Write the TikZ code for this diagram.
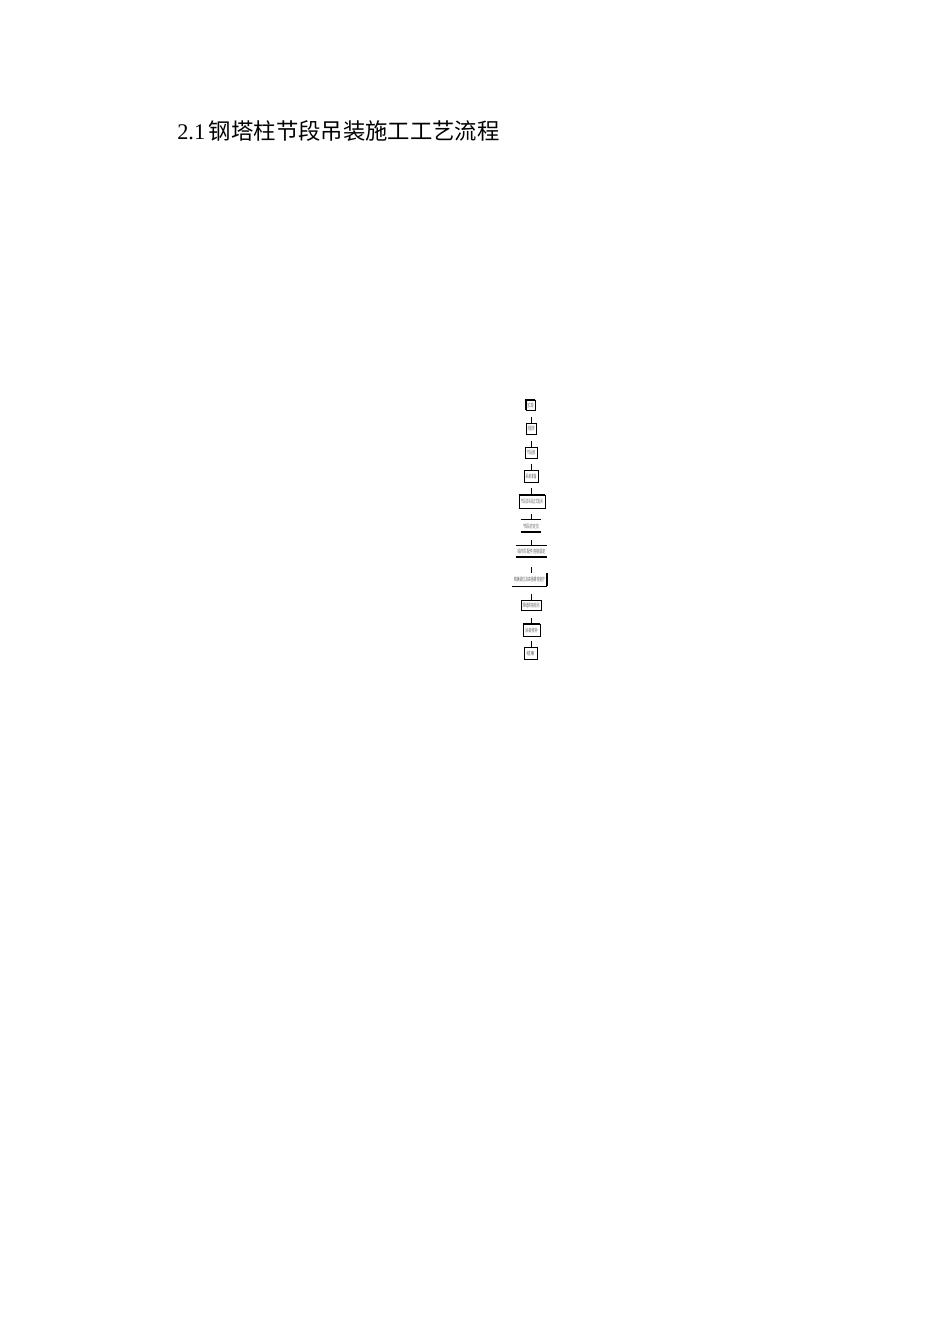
\documentclass[tikz,border=0pt]{standalone}
\usepackage{fontspec}
\usepackage{graphicx}
\setmainfont{Liberation Serif}
\newfontfamily\cjk{Noto Sans CJK SC}
\newlength\pxu
\setlength\pxu{0.6263pt}
\tikzset{
  flowbox/.style={draw=black, line width=0.6pt, inner sep=0pt, minimum width=#1\pxu, align=center},
  openbox/.style={draw=none, inner sep=0pt, minimum width=#1\pxu, align=center},
  stub/.style={draw=black, line width=0.6pt},
  thickedge/.style={draw=black, line width=1.2pt},
  thinedge/.style={draw=black, line width=0.6pt}
}
\newcommand\tinylabel[2]{\textcolor{black!60}{\resizebox*{#1\pxu}{5\pxu}{\cjk #2}}}
\begin{document}
\begin{tikzpicture}[x=0.6263pt, y=-0.6263pt]
\useasboundingbox (0,0) rectangle (950,1344);
\node[anchor=base west, inner sep=0pt, font=\fontsize{14}{16}\selectfont] (title) at (177,139) {2.1\,{\cjk 钢塔柱节段吊装施工工艺流程}};

% boxes
\node[flowbox=9, minimum height=10\pxu] (b1) at (530.5,405) {\tinylabel{6}{施工准备}};
\node[flowbox=10, minimum height=11\pxu] (b2) at (531,428.5) {\tinylabel{7}{测量放样}};
\node[flowbox=12, minimum height=11\pxu] (b3) at (531,452.5) {\tinylabel{8}{节段运输}};
\node[flowbox=14, minimum height=12\pxu] (b4) at (531,476) {\tinylabel{11}{吊装准备}};
\node[flowbox=26, minimum height=13\pxu] (b5) at (532,501.5) {\tinylabel{22}{节段试吊及正式起吊}};
\node[openbox=20, minimum height=12\pxu] (b6) at (531,526) {\tinylabel{16}{节段初定位}};
\node[openbox=31, minimum height=11\pxu] (b7) at (531.5,551.5) {\tinylabel{28}{临时匹配件连接固定}};
\node[openbox=35, minimum height=13\pxu] (b8) at (529.5,579.5) {\tinylabel{31}{精确调位及高强螺栓施拧}};
\node[flowbox=20, minimum height=10\pxu] (b9) at (531,605) {\tinylabel{17}{焊缝焊接检测}};
\node[flowbox=17, minimum height=12\pxu] (b10) at (531.5,630) {\tinylabel{13}{涂装修补}};
\node[flowbox=13, minimum height=12\pxu] (b11) at (530.5,653) {\tinylabel{8}{结束}};

% heavier edges
\draw[thickedge] (b1.south west) -- (b1.north west) -- (b1.north east);
\draw[thickedge] (b2.north east) -- (b2.south east);
\draw[thickedge] (b4.south west) -- (b4.south east);
\draw[thickedge] (b5.north west) -- (b5.north east);
\draw[thinedge] (b6.north west) -- (b6.north east);
\draw[thickedge] (b6.south west) -- (b6.south east);
\draw[thinedge] (b7.north west) -- (b7.north east);
\draw[thickedge] (b7.south west) -- (b7.south east);
\draw[thickedge] (b8.north east) -- (b8.south east);
\draw[thinedge] (b8.south west) -- (b8.south east);
\draw[thickedge] (b10.north west) -- (b10.north east);

% connector stubs
\coordinate (s2) at (531,417);
\coordinate (s3) at (531,441);
\coordinate (s4) at (531,464);
\coordinate (s5) at (531,488);
\coordinate (s6) at (531,514);
\coordinate (s7) at (531,540);
\coordinate (s8) at (531,567);
\coordinate (s9) at (531,594);
\coordinate (s10) at (531,618);
\coordinate (s11) at (531,641);
\draw[stub] (s2) -- (s2 |- b2.north);
\draw[stub] (s3) -- (s3 |- b3.north);
\draw[stub] (s4) -- (s4 |- b4.north);
\draw[stub] (s5) -- (s5 |- b5.north);
\draw[stub] (s6) -- (s6 |- b6.north);
\draw[stub] (s7) -- (s7 |- b7.north);
\draw[stub] (s8) -- (s8 |- b8.north);
\draw[stub] (s9) -- (s9 |- b9.north);
\draw[stub] (s10) -- (s10 |- b10.north);
\draw[stub] (s11) -- (s11 |- b11.north);
\end{tikzpicture}
\end{document}
